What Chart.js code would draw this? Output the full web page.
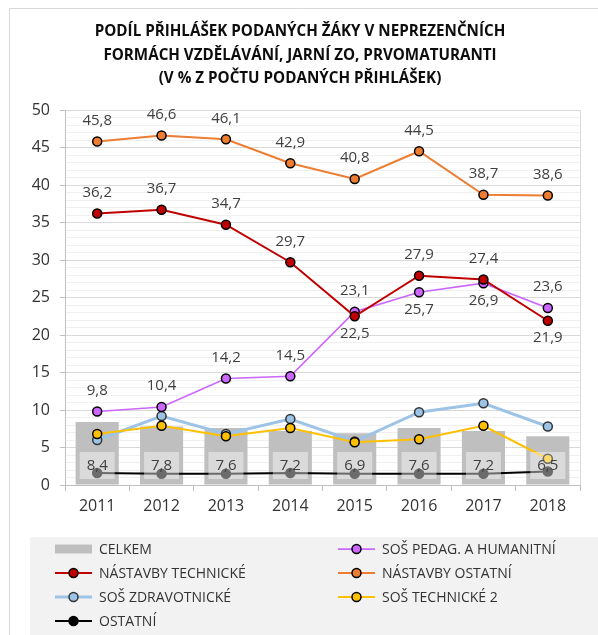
<!DOCTYPE html>
<html><head><meta charset="utf-8">
<script src="https://cdn.jsdelivr.net/npm/chart.js@4/dist/chart.umd.min.js"></script>
<style>html,body{margin:0;padding:0;background:#fff;overflow:hidden}canvas{display:block}</style>
</head><body>
<canvas id="c" width="598" height="635"></canvas>
<script>
const years = ['2011','2012','2013','2014','2015','2016','2017','2018'];
const celkem = [8.4, 7.8, 7.6, 7.2, 6.9, 7.6, 7.2, 6.5];
const sosPedag = [9.8, 10.4, 14.2, 14.5, 23.1, 25.7, 26.9, 23.6];
const nastavbyTech = [36.2, 36.7, 34.7, 29.7, 22.5, 27.9, 27.4, 21.9];
const nastavbyOst = [45.8, 46.6, 46.1, 42.9, 40.8, 44.5, 38.7, 38.6];
const sosZdrav = [6.0, 9.2, 6.8, 8.8, 5.8, 9.7, 10.9, 7.8];
const sosTech2 = [6.8, 7.9, 6.5, 7.6, 5.7, 6.1, 7.9, 3.5];
const ostatni = [1.6, 1.5, 1.5, 1.6, 1.5, 1.5, 1.5, 1.8];
const yTicks = [0, 5, 10, 15, 20, 25, 30, 35, 40, 45, 50];
const titleLines = ['PODÍL PŘIHLÁŠEK PODANÝCH ŽÁKY V NEPREZENČNÍCH', 'FORMÁCH VZDĚLÁVÁNÍ, JARNÍ ZO, PRVOMATURANTI', '(V % Z POČTU PODANÝCH PŘIHLÁŠEK)'];

const FONT = '"Open Sans", "DejaVu Sans", sans-serif';
const fmt = v => v.toFixed(1).replace('.', ',');

function lineDs(label, data, color, order, width, border, labels) {
  return { type: 'line', label, data, borderColor: color, backgroundColor: color,
    borderWidth: width, pointRadius: 4.5, pointHoverRadius: 4.5, pointBorderWidth: 1.5,
    pointBackgroundColor: color, pointBorderColor: border, tension: 0, order, valueLabels: labels };
}
const A = true, B = false;
const datasets = [
  { type: 'bar', label: 'CELKEM', data: celkem, backgroundColor: '#bfbfbf', borderWidth: 0,
    barPercentage: 0.67, categoryPercentage: 1, order: 10, valueLabels: 'base' },
  lineDs('SOŠ PEDAG. A HUMANITNÍ', sosPedag, '#cc66ff', 3, 1.75, '#000', [A, A, A, A, A, B, B, A]),
  lineDs('NÁSTAVBY TECHNICKÉ', nastavbyTech, '#c00000', 2, 2, '#000', [A, A, A, A, B, A, A, B]),
  lineDs('NÁSTAVBY OSTATNÍ', nastavbyOst, '#ed7d31', 1, 2, '#000', [A, A, A, A, A, A, A, A]),
  lineDs('SOŠ ZDRAVOTNICKÉ', sosZdrav, '#9dc3e6', 5, 3, '#333', null),
  lineDs('SOŠ TECHNICKÉ 2', sosTech2, '#ffc000', 4, 2, '#000', null),
  lineDs('OSTATNÍ', ostatni, '#000000', 6, 2, '#000', null)
];

const decor = {
  id: 'decor',
  beforeDraw(chart) {
    const ctx = chart.ctx;
    ctx.save();
    ctx.fillStyle = '#fff'; ctx.fillRect(0, 0, chart.width, chart.height);
    ctx.strokeStyle = '#d9d9d9'; ctx.lineWidth = 1;
    ctx.beginPath(); ctx.moveTo(9.5, chart.height); ctx.lineTo(9.5, 8.5); ctx.lineTo(chart.width, 8.5); ctx.stroke();
    ctx.fillStyle = '#f2f2f2'; ctx.fillRect(30, 537, chart.width - 30, chart.height - 537);
    ctx.fillStyle = '#0d0d0d'; ctx.font = 'bold 15.2px ' + FONT;
    ctx.textAlign = 'center'; ctx.textBaseline = 'middle';
    titleLines.forEach((t, i) => ctx.fillText(t, 300, 32 + i * 23.5));
    ctx.restore();
  },
  afterDraw(chart) {
    const ctx = chart.ctx;
    ctx.save();
    ctx.font = '14px ' + FONT; ctx.textBaseline = 'middle'; ctx.textAlign = 'left';
    const colX = [55, 338], rowY = [549, 573, 597, 621];
    chart.data.datasets.forEach((ds, i) => {
      const x = colX[i % 2], y = rowY[Math.floor(i / 2)];
      if (ds.type === 'bar') {
        ctx.fillStyle = ds.backgroundColor; ctx.fillRect(x, y - 4.5, 37, 9);
      } else {
        ctx.strokeStyle = ds.borderColor; ctx.lineWidth = ds.borderWidth;
        ctx.beginPath(); ctx.moveTo(x, y); ctx.lineTo(x + 37, y); ctx.stroke();
        ctx.beginPath(); ctx.arc(x + 18.5, y, 4.5, 0, Math.PI * 2);
        ctx.fillStyle = ds.pointBackgroundColor; ctx.fill();
        ctx.lineWidth = 1.5; ctx.strokeStyle = ds.pointBorderColor; ctx.stroke();
      }
      ctx.fillStyle = '#333';
      ctx.fillText(ds.label, x + 44, y + 1);
    });
    ctx.restore();
  },
  afterDatasetsDraw(chart) {
    const ctx = chart.ctx;
    ctx.save();
    ctx.font = '15px ' + FONT; ctx.textAlign = 'center'; ctx.textBaseline = 'middle';
    chart.data.datasets.forEach((ds, i) => {
      const cfg = ds.valueLabels; if (!cfg) return;
      const meta = chart.getDatasetMeta(i);
      meta.data.forEach((el, j) => {
        const t = fmt(ds.data[j]);
        if (cfg === 'base') {
          const y = chart.scales.y.bottom - 19.5;
          ctx.fillStyle = 'rgba(255,255,255,0.42)';
          ctx.fillRect(el.x - 17.5, y - 13.5, 35, 27);
          ctx.fillStyle = '#404040';
          ctx.fillText(t, el.x, y);
        } else {
          ctx.fillStyle = '#404040';
          ctx.fillText(t, el.x, el.y + (cfg[j] ? -21 : 17));
        }
      });
    });
    ctx.restore();
  }
};

new Chart(document.getElementById('c'), {
  type: 'bar',
  data: { labels: years, datasets },
  options: {
    responsive: false, animation: false, devicePixelRatio: 1,
    layout: { padding: { left: 0, right: 18, top: 110, bottom: 0 } },
    plugins: {
      legend: { display: false }, tooltip: { enabled: false }, title: { display: false }
    },
    scales: {
      x: {
        offset: true,
        grid: { offset: true, color: c => (c.tick ? 'rgba(0,0,0,0)' : '#d9d9d9'), tickColor: '#bfbfbf', tickLength: 6 },
        border: { color: '#bfbfbf' },
        ticks: { color: '#333', font: { family: FONT, size: 16 }, padding: 6, maxRotation: 0 },
        afterFit: s => { s.height = 150; }
      },
      y: {
        min: 0, max: 50,
        afterBuildTicks: s => {
          const arr = [];
          for (let v = 0; v <= 50; v++) arr.push({ value: v });
          s.ticks = arr;
        },
        ticks: { autoSkip: false, color: '#333', font: { family: FONT, size: 16 }, padding: 10,
          callback: v => (yTicks.includes(v) ? String(v) : '') },
        grid: { color: c => (c.tick && c.tick.value % 5 === 0 ? '#d9d9d9' : '#f0f0f0'),
          tickColor: c => (c.tick && c.tick.value % 5 === 0 ? '#bfbfbf' : 'rgba(0,0,0,0)'), tickLength: 5 },
        border: { color: '#bfbfbf' },
        afterFit: s => { s.width = 65; }
      }
    }
  },
  plugins: [decor]
});
</script>
</body></html>
